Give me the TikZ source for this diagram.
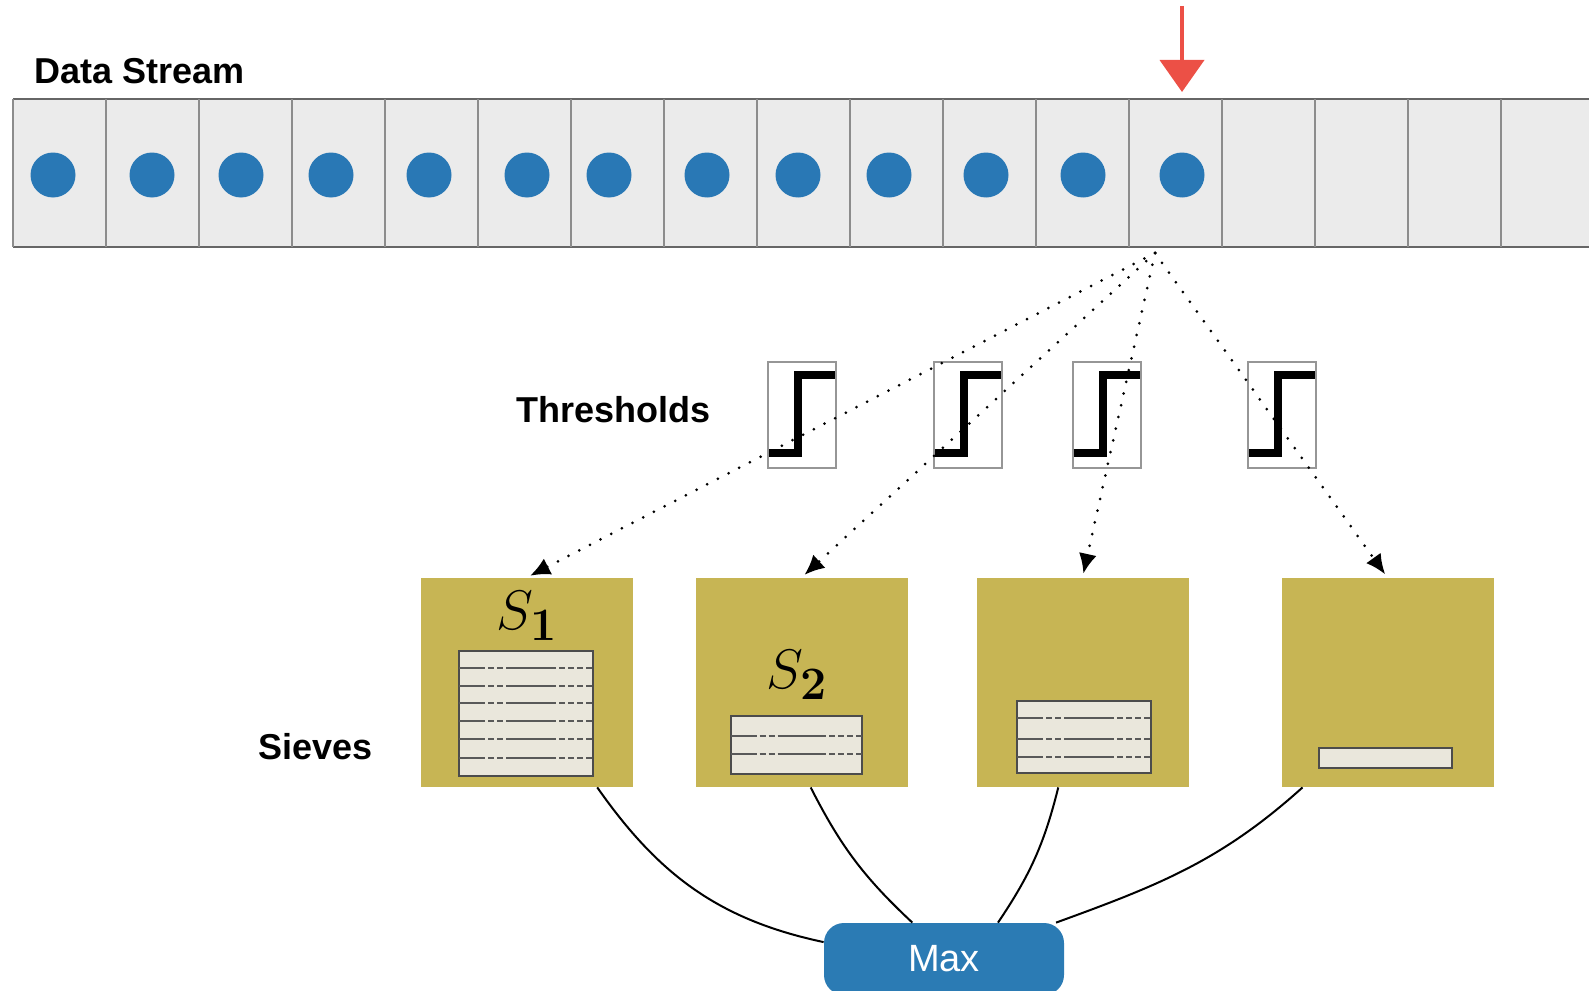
\documentclass[tikz,border=0pt]{standalone}
\usepackage[no-math]{fontspec}
\setmainfont{Liberation Sans}
\usetikzlibrary{arrows.meta,calc}

\definecolor{dotblue}{RGB}{41,120,181}
\definecolor{maxblue}{RGB}{43,123,180}
\definecolor{sieveolive}{RGB}{199,181,84}
\definecolor{panelfill}{RGB}{234,231,220}
\definecolor{streamfill}{RGB}{235,235,235}
\definecolor{newred}{RGB}{236,80,70}
\definecolor{threshgray}{RGB}{150,150,150}

\tikzset{
  heading/.style={anchor=west, inner sep=0pt, font=\fontsize{18}{20}\selectfont\bfseries},
  thresh/.style={draw=threshgray, line width=1.2pt, minimum width=34pt, minimum height=53pt, inner sep=0pt},
  stepline/.style={line width=3.8pt},
  sieve/.style={fill=sieveolive, minimum width=106pt, minimum height=104.5pt, inner sep=0pt},
  panel/.style={fill=panelfill, draw=black!70, line width=0.9pt},
  rulesolid/.style={draw=black!65, line width=0.8pt},
  ruledash/.style={draw=black!65, line width=0.8pt, dash pattern=on 3pt off 1.5pt},
  feed/.style={line width=1.5pt, dash pattern=on 0pt off 6pt, line cap=round,
    -{Latex[length=10pt,width=9pt]}, shorten >=2pt},
  link/.style={line width=1pt},
  maxbox/.style={fill=maxblue, rounded corners=10pt, minimum width=120pt, minimum height=36pt,
    text=white, font=\fontsize{19}{21}\selectfont},
  newitem/.style={draw=newred, line width=2pt, -{Triangle[length=16pt,width=22pt]}},
}

% x0, x1, list of y
\newcommand{\sievelines}[3]{%
  \foreach \y in {#3} {
    \draw[rulesolid] (#1,\y) -- ({#1+0.15*(#2-#1)},\y);
    \draw[ruledash] ({#1+0.15*(#2-#1)},\y) -- ({#1+0.38*(#2-#1)},\y);
    \draw[rulesolid] ({#1+0.38*(#2-#1)},\y) -- ({#1+0.68*(#2-#1)},\y);
    \draw[ruledash] ({#1+0.68*(#2-#1)},\y) -- (#2,\y);
  }}

\begin{document}
\begin{tikzpicture}[x=0.5pt, y=-0.5pt]
  \useasboundingbox (0,0) rectangle (1589,990);
  \clip (0,0) rectangle (1589,990);

  % Data stream
  \node[heading] (title) at (34,71) {Data Stream};
  \fill[streamfill] (13,99) rectangle (1600,247);
  \draw[black!60, line width=0.8pt] (13,99) -- (1600,99) (13,247) -- (1600,247);
  \foreach \k in {0,...,16}
    \draw[black!45, line width=0.7pt] ({13+93*\k},99) -- ({13+93*\k},247);
  \foreach \x in {53,152,241,331,429,527,609,707,798,889,986,1083,1182}
    \fill[dotblue] (\x,175) circle[radius=11.25pt];

  % new element
  \coordinate (drop) at (1182,6);
  \coordinate (slot) at (1182,92);
  \draw[newitem] (drop) -- (slot);
  \coordinate (src) at (1155,253);

  % Thresholds
  \node[heading] (thlabel) at (516,410) {Thresholds};
  \node[thresh] (t1) at (802,415) {};
  \node[thresh] (t2) at (968,415) {};
  \node[thresh] (t3) at (1107,415) {};
  \node[thresh] (t4) at (1282,415) {};
  \foreach \t in {t1,t2,t3,t4}
    \draw[stepline] ($(\t.south west)+(2,-16)$) -- ($(\t.south west)+(31,-16)$)
      -- ($(\t.north west)+(31,14)$) -- ($(\t.north east)+(-2,14)$);

  % Sieves
  \node[heading] (svlabel) at (258,747) {Sieves};
  \node[sieve] (s1) at (526.5,682.5) {};
  \node[sieve] (s2) at (801.5,682.5) {};
  \node[sieve] (s3) at (1082.5,682.5) {};
  \node[sieve] (s4) at (1387.5,682.5) {};

  \foreach \s in {s1,s2,s3,s4}
    \draw[feed] (src) -- (\s.north);

  \draw[panel] (459,651) rectangle (593,776);
  \sievelines{459}{593}{668,686,703,721,739,758}
  \draw[panel] (731,716) rectangle (862,774);
  \sievelines{731}{862}{736,754}
  \draw[panel] (1017,701) rectangle (1151,773);
  \sievelines{1017}{1151}{718,739,757}
  \draw[panel] (1319,748) rectangle (1452,768);

  \node[font=\Huge, scale=1.12] (lab1) at (527,616) {$S_{\mathbf{1}}$};
  \node[font=\Huge, scale=1.12] (lab2) at (797,675) {$S_{\mathbf{2}}$};

  % Max
  \node[maxbox] (max) at (944,959) {Max};
  \draw[link] (s1.-56) to[out=-55,in=168] (max.172);
  \draw[link] (s2.-85) to[bend right=10] (max.131);
  \draw[link] (s3.-103) to[bend left=10] (max.34);
  \draw[link] (s4.-129) to[out=-138,in=20] (max.18);
\end{tikzpicture}
\end{document}
